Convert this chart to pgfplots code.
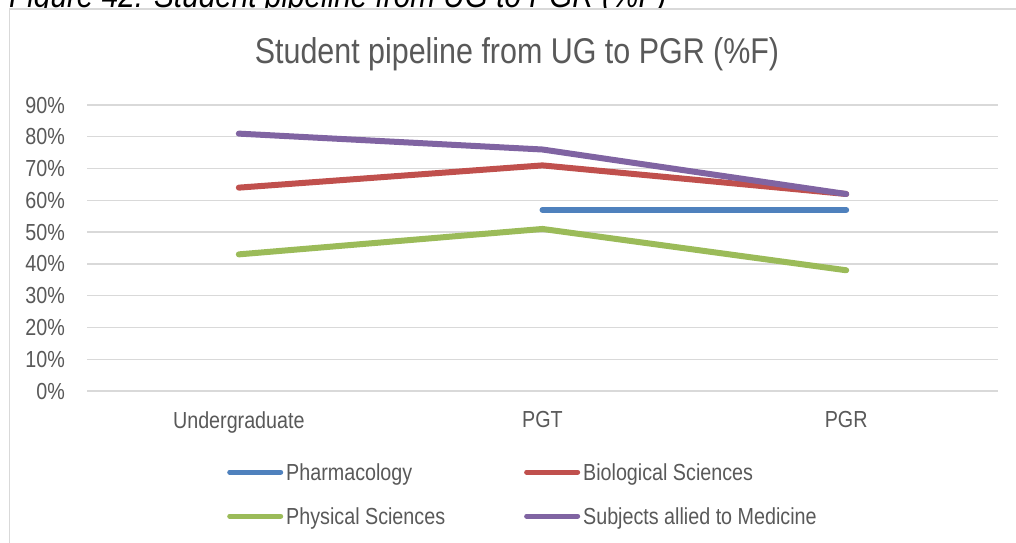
\documentclass[border=0pt]{standalone}
\usepackage{pgfplots}
\pgfplotsset{compat=1.18}
\usepackage{fontspec}
\setmainfont{Liberation Sans}[FakeStretch=0.85]

\definecolor{txt}{HTML}{595959}
\definecolor{gridc}{HTML}{D9D9D9}
\definecolor{pharm}{HTML}{4F81BD}
\definecolor{bio}{HTML}{C0504D}
\definecolor{phys}{HTML}{9BBB59}
\definecolor{med}{HTML}{8064A2}

\begin{document}
\begin{tikzpicture}
\useasboundingbox (0pt,0pt) rectangle (1016pt,-542pt);
% caption of the figure, cut off at the top of the page
\node[anchor=base west, inner sep=0pt, font=\fontsize{35}{40}\selectfont\itshape]
  at (9pt,-7pt) {Figure 42: Student pipeline from UG to PGR (\%F)};
% chart area
\draw[gridc, line width=1.5pt, fill=white] (9.5pt,-9pt) rectangle (1040pt,-560pt);
\node[anchor=base, inner sep=0pt, text=txt, font=\fontsize{35.8}{40}\selectfont]
  at (517pt,-63pt) {Student pipeline from UG to PGR (\%F)};
\begin{axis}[
  at={(87pt,-391pt)}, anchor=south west,
  scale only axis, width=911pt, height=286pt,
  xmin=-0.5, xmax=2.5, ymin=0, ymax=90,
  axis line style={draw=none},
  xtick={0,1,2}, xticklabels={Undergraduate,PGT,PGR},
  ytick={0,10,...,90},
  yticklabels={0\%,10\%,20\%,30\%,40\%,50\%,60\%,70\%,80\%,90\%},
  major tick length=0pt,
  ymajorgrids, grid style={gridc, line width=1.3pt},
  tick label style={text=txt, font=\fontsize{23.2}{26}\selectfont},
  yticklabel style={inner sep=0pt, xshift=-22pt},
  xticklabel style={inner sep=0pt, yshift=-20pt},
  clip=false,
  every axis plot/.append style={line width=6pt, line cap=round, line join=round},
  legend columns=2,
  legend cell align=left,
  legend image code/.code={\draw[#1, line width=5pt, line cap=round] (2.5pt,2pt) -- (53.5pt,2pt);},
  legend style={draw=none, fill=none, at={(0.1537,-0.2515)}, anchor=north west,
    inner sep=0pt, row sep=22pt, column sep=3pt,
    font=\fontsize{23.2}{26}\selectfont, text=txt,
    nodes={inner sep=0pt, text height=17pt, text depth=5pt},
    /tikz/every even column/.append style={column sep=79pt}},
]
\addplot[pharm] coordinates {(1,57) (2,57)};
\addlegendentry{Pharmacology}
\addplot[bio] coordinates {(0,64) (1,71) (2,62)};
\addlegendentry{Biological Sciences}
\addplot[phys] coordinates {(0,43) (1,51) (2,38)};
\addlegendentry{Physical Sciences}
\addplot[med] coordinates {(0,81) (1,76) (2,62)};
\addlegendentry{Subjects allied to Medicine}
\end{axis}
\end{tikzpicture}
\end{document}
